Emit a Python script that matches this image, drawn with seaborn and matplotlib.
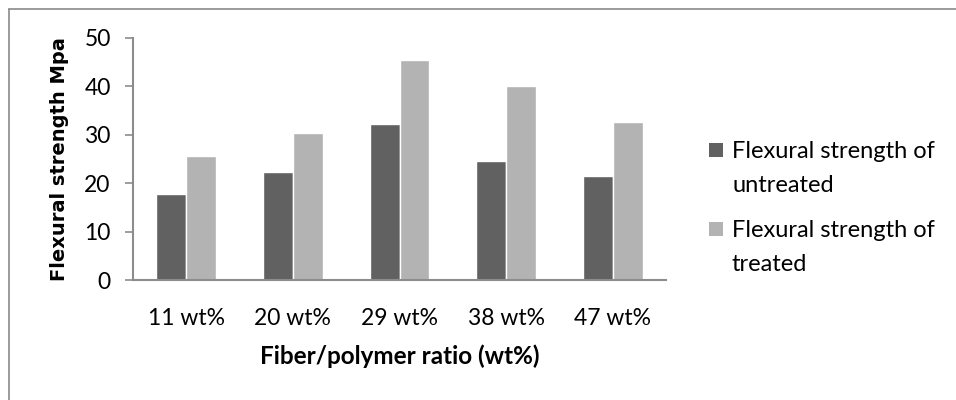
import matplotlib
matplotlib.use("Agg")
import matplotlib.pyplot as plt
import matplotlib.lines as mlines
import matplotlib.patches as mpatches
import pandas as pd
import seaborn as sns

ratios = ["11 wt%", "20 wt%", "29 wt%", "38 wt%", "47 wt%"]
untreated = [17.7, 22.4, 32.2, 24.5, 21.5]
treated = [25.6, 30.4, 45.3, 40.1, 32.6]
series_names = ["Flexural strength of\nuntreated", "Flexural strength of\ntreated"]
y_ticks = [0, 10, 20, 30, 40, 50]

sns.set_theme(style="white")
plt.rcParams["font.family"] = ["Lato", "DejaVu Sans"]

df = pd.DataFrame({
    "ratio": ratios * 2,
    "strength": untreated + treated,
    "series": [series_names[0]] * len(ratios) + [series_names[1]] * len(ratios),
})

W, H = 956, 400
fig = plt.figure(figsize=(W / 100, H / 100), dpi=100)
ax = fig.add_axes([0.139, 0.299, 0.558, 0.607])

palette = {series_names[0]: "#616161", series_names[1]: "#b3b3b3"}
sns.barplot(data=df, x="ratio", y="strength", hue="series", order=ratios,
            hue_order=series_names, palette=palette, width=0.56, gap=0,
            saturation=1, ax=ax, legend=False)

ax.set_ylim(0, 50)
ax.set_xlim(-0.5, len(ratios) - 0.5)
ax.set_yticks(y_ticks)
ax.set_yticklabels([str(t) for t in y_ticks])

axis_col = "#8c8c8c"
for side in ("top", "right"):
    ax.spines[side].set_visible(False)
for side in ("left", "bottom"):
    ax.spines[side].set_color(axis_col)
    ax.spines[side].set_linewidth(1.5)

ax.tick_params(axis="y", which="both", left=True, length=6, width=1.2,
               color=axis_col, labelsize=16.5, pad=10, labelcolor="black")
ax.tick_params(axis="x", length=0, labelsize=16.5, pad=20, labelcolor="black")

ax.set_xlabel("Fiber/polymer ratio (wt%)", fontsize=17.5, fontweight="bold",
              labelpad=11, color="black")
ax.set_ylabel("Flexural strength Mpa", fontsize=14, fontweight="bold",
              family="DejaVu Sans", labelpad=11, color="black")

# legend: square swatch aligned with the first line of each two-line label
legend_rows = [150, 229]  # pixel y of first text line, from top
for name, y_px in zip(series_names, legend_rows):
    fig.add_artist(mpatches.Rectangle(
        (709 / W, 1 - (y_px + 7) / H), 14 / W, 14 / H,
        transform=fig.transFigure, facecolor=palette[name], edgecolor="none"))
    fig.text(732 / W, 1 - (y_px - 9) / H, name, fontsize=17, va="top",
             ha="left", linespacing=1.75, color="black")

# chart-area frame (top and left edges only)
fig.add_artist(mlines.Line2D([0.0095, 0.0095], [0.0, 0.978], transform=fig.transFigure,
                             color="#8a8a8a", linewidth=1.2))
fig.add_artist(mlines.Line2D([0.0095, 1.0], [0.978, 0.978], transform=fig.transFigure,
                             color="#8a8a8a", linewidth=1.2))

fig.savefig("out.png", dpi=100, facecolor="white")
